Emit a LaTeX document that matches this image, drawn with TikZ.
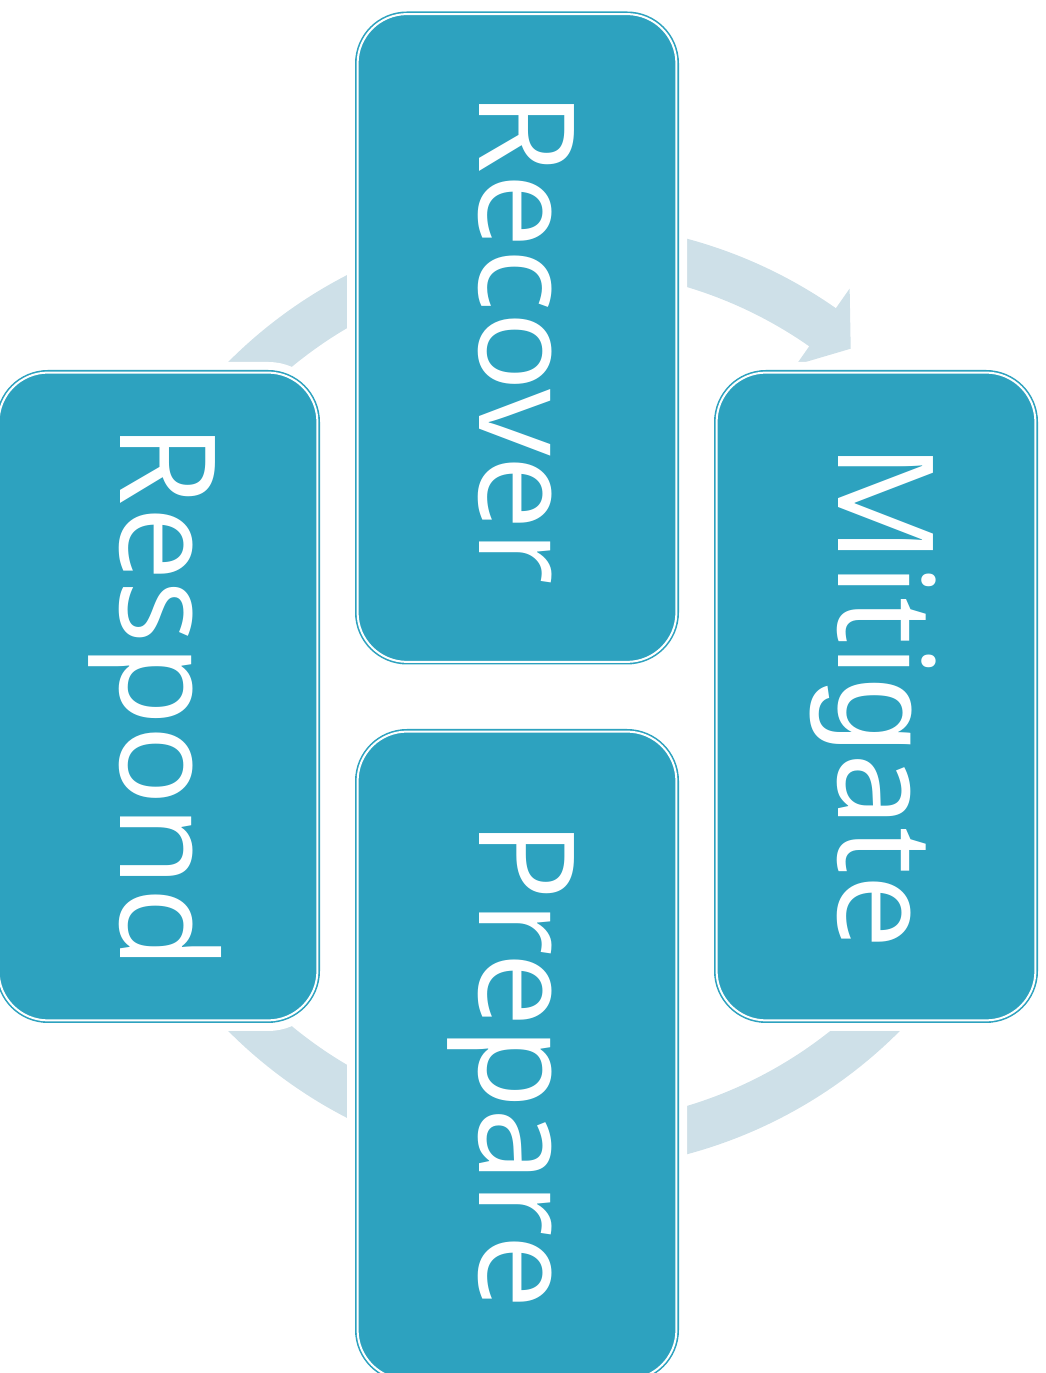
\documentclass[tikz,border=0pt]{standalone}
\usepackage{fontspec}
\setmainfont{Open Sans}
\newfontfamily\glyphalt{Liberation Sans}[Scale=1.03]
\usetikzlibrary{backgrounds}
\definecolor{boxfill}{HTML}{2DA2BF}
\definecolor{ringfill}{HTML}{CEE0E8}
\tikzset{
  phasebox/.style={rectangle, rotate=-90, rounded corners=49.4pt,
    minimum width=647.8pt, minimum height=318.8pt, inner sep=0pt,
    fill=boxfill, draw=boxfill, line width=5.2pt,
    preaction={draw=white, line width=21.2pt},
    postaction={draw=white, line width=2pt},
    text=white, font=\fontsize{133pt}{160pt}\selectfont,
    text height=76pt, text depth=0pt},
  cyclearrow/.style={fill=ringfill, draw=none},
}
% arrow segment: start angle, end angle (base of head), tip angle
\newcommand\cycarrowpath[3]{%
  (#1:474) arc[start angle=#1, end angle=#2, radius=474]
  -- (#2:498) -- (#3:450.75) -- (#2:405) -- (#2:427.5)
  arc[start angle=#2, end angle=#1, radius=427.5] -- cycle}
\begin{document}
\begin{tikzpicture}[x=1pt, y=1pt]
  \useasboundingbox (0,0) rectangle (1046,1373);
  \node[phasebox] (recover)  at (517,1035)   {Recover};
  \node[phasebox] (mitigate) at (876,676.5)  {Miti{\glyphalt g}ate};
  \node[phasebox] (prepare)  at (517,317.5)  {\hspace*{19pt}Prepare};
  \node[phasebox] (respond)  at (158,676.5)  {Respond};
  \coordinate (ringc) at (564,676.5);
  \begin{scope}[on background layer, shift={(ringc)}]
    \fill[cyclearrow] \cycarrowpath{80}{55}{50.5};      % recover -> mitigate
    \fill[cyclearrow] \cycarrowpath{-40}{-80}{-84.5};   % mitigate -> prepare
    \fill[cyclearrow] \cycarrowpath{-100}{-140}{-144.5};% prepare -> respond
    \fill[cyclearrow] \cycarrowpath{140}{100}{95.5};    % respond -> recover
  \end{scope}
\end{tikzpicture}
\end{document}
